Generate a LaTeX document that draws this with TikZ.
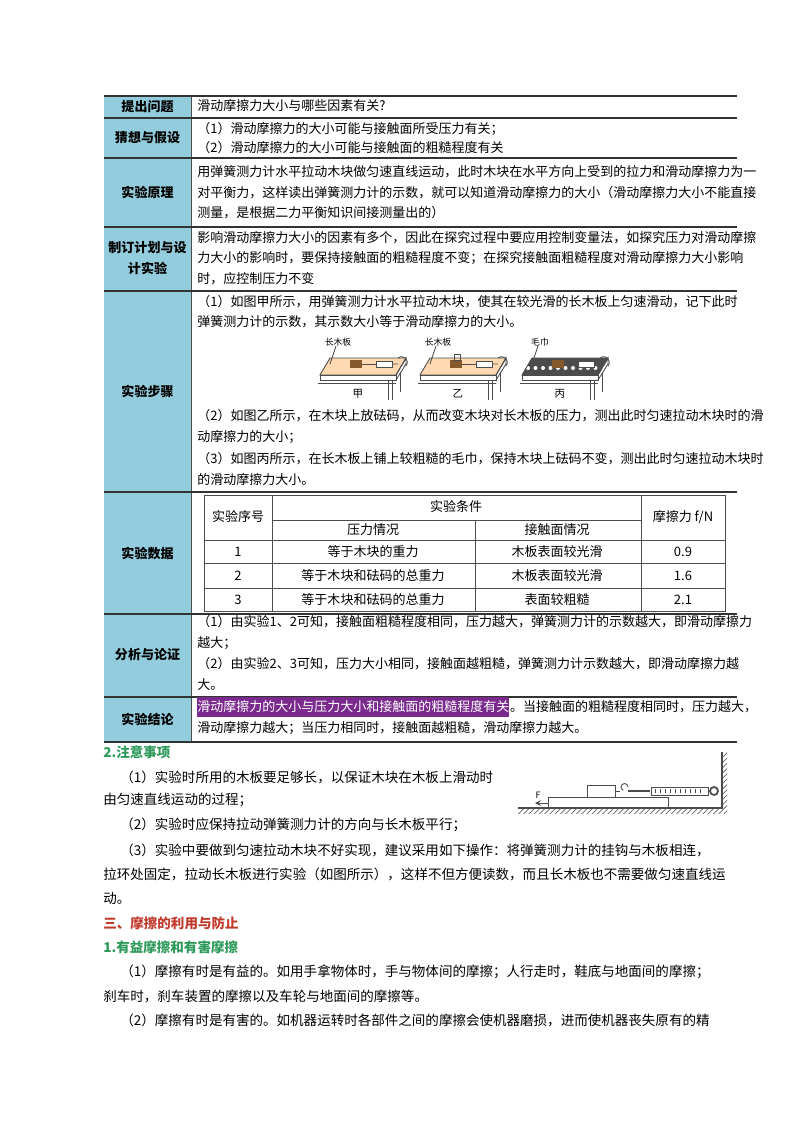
\documentclass[tikz,border=0pt]{standalone}
\usepackage{fontspec}
\setmainfont{Noto Sans CJK SC}
\usetikzlibrary{patterns}
\definecolor{lab}{HTML}{93CDDD}
\definecolor{grn}{HTML}{2E9A5A}
\definecolor{red3}{HTML}{C0392B}
\definecolor{hl}{HTML}{7A2A8C}
\newcommand{\tx}{\fontsize{7.4pt}{9pt}\selectfont}
\newcommand{\bx}{\fontsize{7.7pt}{9pt}\selectfont}
\tikzset{
 t/.style={anchor=west,inner sep=0pt,font=\tx},
 b/.style={anchor=west,inner sep=0pt,font=\bx},
 c/.style={anchor=center,inner sep=0pt,font=\tx},
 lb/.style={anchor=center,inner sep=0pt,font=\tx\bfseries,align=center},
 rl/.style={line width=1.1pt,black!80},
 gl/.style={line width=0.5pt,black!70},
}
\begin{document}
\begin{tikzpicture}[x=0.02cm,y=-0.02cm]
\useasboundingbox (0,0) rectangle (800,1132);
% label column
\fill[lab] (104,96) rectangle (191,742);
\draw[gl] (191,96) -- (191,742);
\foreach \y in {96,118,158,227,291,492,614,697,742} \draw[rl] (104,\y) -- (737,\y);
\node[lb] (l1) at (147.5,107) {提出问题};
\node[lb] (l2) at (147.5,138) {猜想与假设};
\node[lb] (l3) at (147.5,192) {实验原理};
\node[lb] (l4) at (147.5,258) {制订计划与设\\[3pt]计实验};
\node[lb] (l5) at (147.5,391) {实验步骤};
\node[lb] (l6) at (147.5,553) {实验数据};
\node[lb] (l7) at (147.5,655) {分析与论证};
\node[lb] (l8) at (147.5,719) {实验结论};
% row texts
\node[t] at (197,106) {滑动摩擦力大小与哪些因素有关?};
\node[t] at (197,129) {（1）滑动摩擦力的大小可能与接触面所受压力有关；};
\node[t] at (197,148) {（2）滑动摩擦力的大小可能与接触面的粗糙程度有关};
\node[t] at (197,172) {用弹簧测力计水平拉动木块做匀速直线运动，此时木块在水平方向上受到的拉力和滑动摩擦力为一};
\node[t] at (197,193) {对平衡力，这样读出弹簧测力计的示数，就可以知道滑动摩擦力的大小（滑动摩擦力大小不能直接};
\node[t] at (197,213) {测量，是根据二力平衡知识间接测量出的）};
\node[t] at (197,238) {影响滑动摩擦力大小的因素有多个，因此在探究过程中要应用控制变量法，如探究压力对滑动摩擦};
\node[t] at (197,258) {力大小的影响时，要保持接触面的粗糙程度不变；在探究接触面粗糙程度对滑动摩擦力大小影响};
\node[t] at (197,279) {时，应控制压力不变};
\node[t] at (197,302) {（1）如图甲所示，用弹簧测力计水平拉动木块，使其在较光滑的长木板上匀速滑动，记下此时};
\node[t] at (197,322) {弹簧测力计的示数，其示数大小等于滑动摩擦力的大小。};
\node[t] at (197,416) {（2）如图乙所示，在木块上放砝码，从而改变木块对长木板的压力，测出此时匀速拉动木块时的滑};
\node[t] at (197,437) {动摩擦力的大小；};
\node[t] at (197,459) {（3）如图丙所示，在长木板上铺上较粗糙的毛巾，保持木块上砝码不变，测出此时匀速拉动木块时};
\node[t] at (197,480) {的滑动摩擦力大小。};
% three pictures
\foreach \ox/\lab/\cap/\towel in {318/长木板/甲/0,418/长木板/乙/0,520/毛巾/丙/1}{
 \begin{scope}[shift={(\ox,0)}]
  \fill[orange!30] (2,375) -- (12,358) -- (88,358) -- (78,375) -- cycle;
  \ifnum\towel=1 \fill[black!70] (2,375) -- (12,358) -- (88,358) -- (78,375) -- cycle;
   \foreach \i in {0,...,9} \fill[white] (8+\i*7.5,368) circle (2);\fi
  \draw[gl] (2,375) -- (12,358) -- (88,358) -- (78,375) -- cycle;
  \draw[gl] (2,375) rectangle (78,380); \draw[gl] (78,375) -- (88,358) -- (88,364) -- (78,380);
  \draw[gl] (0,383) -- (78,383); \draw[gl] (70,380) -- (70,400) (74,380) -- (74,400) (82,372) -- (82,392);
  \fill[brown!70!black] (32,360) rectangle (44,368);
  \ifnum\ox=418 \draw[gl] (36,360) rectangle (42,354);\fi
  \draw[gl] (44,364) -- (58,364); \draw[gl,fill=white] (58,361) rectangle (74,367);
  \draw[gl] (74,364) -- (80,364) (80,358) .. controls (86,354) and (92,360) .. (88,366);
  \node[font=\fontsize{5pt}{6pt}\selectfont,inner sep=0pt] at (20,342) {\lab};
  \draw[gl] (18,346) -- (12,364);
  \node[font=\fontsize{6pt}{7pt}\selectfont,inner sep=0pt] at (40,394) {\cap};
 \end{scope}}
% data table
\draw[gl] (204,495) rectangle (725,611);
\foreach \y in {540,563,588} \draw[gl] (204,\y) -- (725,\y);
\draw[gl] (272,520) -- (641,520);
\foreach \x in {272,641} \draw[gl] (\x,495) -- (\x,611);
\draw[gl] (475,520) -- (475,611);
\node[c] at (238,517) {实验序号};
\node[c] at (456,507) {实验条件};
\node[c] at (373,530) {压力情况};
\node[c] at (557,530) {接触面情况};
\node[c] at (683,517) {摩擦力 f/N};
\node[c] at (238,552) {1}; \node[c] at (373,552) {等于木块的重力}; \node[c] at (557,552) {木板表面较光滑}; \node[c] at (683,552) {0.9};
\node[c] at (238,576) {2}; \node[c] at (373,576) {等于木块和砝码的总重力}; \node[c] at (557,576) {木板表面较光滑}; \node[c] at (683,576) {1.6};
\node[c] at (238,600) {3}; \node[c] at (373,600) {等于木块和砝码的总重力}; \node[c] at (557,600) {表面较粗糙}; \node[c] at (683,600) {2.1};
% analysis
\node[t] at (197,622) {（1）由实验1、2可知，接触面粗糙程度相同，压力越大，弹簧测力计的示数越大，即滑动摩擦力};
\node[t] at (197,643) {越大；};
\node[t] at (197,664) {（2）由实验2、3可知，压力大小相同，接触面越粗糙，弹簧测力计示数越大，即滑动摩擦力越};
\node[t] at (197,685) {大。};
% conclusion
\node[t,fill=hl,inner ysep=2pt,text=white] (hlt) at (197,707) {滑动摩擦力的大小与压力大小和接触面的粗糙程度有关};
\node[t,anchor=base west] at (hlt.base east) {。当接触面的粗糙程度相同时，压力越大，};
\node[t] at (197,728) {滑动摩擦力越大；当压力相同时，接触面越粗糙，滑动摩擦力越大。};
% notes
\node[b,text=grn,font=\bx\bfseries] at (103,752) {2.注意事项};
\node[b] at (120,777) {（1）实验时所用的木板要足够长，以保证木块在木板上滑动时};
\node[b] at (103,800) {由匀速直线运动的过程；};
\node[b] at (120,825) {（2）实验时应保持拉动弹簧测力计的方向与长木板平行；};
\node[b] at (120,850) {（3）实验中要做到匀速拉动木块不好实现，建议采用如下操作：将弹簧测力计的挂钩与木板相连，};
\node[b] at (103,874) {拉环处固定，拉动长木板进行实验（如图所示），这样不但方便读数，而且长木板也不需要做匀速直线运};
\node[b] at (103,898) {动。};
\node[b,text=red3,font=\bx\bfseries] at (103,923) {三、摩擦的利用与防止};
\node[b,text=grn,font=\bx\bfseries] at (103,947) {1.有益摩擦和有害摩擦};
\node[b] at (120,972) {（1）摩擦有时是有益的。如用手拿物体时，手与物体间的摩擦；人行走时，鞋底与地面间的摩擦；};
\node[b] at (103,996) {刹车时，刹车装置的摩擦以及车轮与地面间的摩擦等。};
\node[b] at (120,1020) {（2）摩擦有时是有害的。如机器运转时各部件之间的摩擦会使机器磨损，进而使机器丧失原有的精};
% right figure
\fill[pattern=north east lines,pattern color=black!60] (518,808) rectangle (722,813);
\fill[pattern=north east lines,pattern color=black!60] (722,752) rectangle (727,813);
\draw[gl,line width=0.7pt] (518,808) -- (722,808) -- (722,752);
\draw[gl] (548,797) rectangle (668,808);
\draw[gl] (587,785) rectangle (615,797);
\draw[gl] (615,791) -- (620,791);
\draw[gl] (628,787) arc (0:-250:3.5);
\draw[gl,line width=1pt] (628,791) -- (650,791);
\draw[gl,fill=white] (651,787) rectangle (708,795);
\foreach \i in {0,...,9} \draw[gl,line width=0.3pt] (655+\i*5,789) -- (655+\i*5,793);
\draw[gl] (708,791) -- (710,791);
\draw[gl,line width=1pt] (714,791) circle (4);
\draw[gl,-stealth] (548,803) -- (535,803);
\node[font=\fontsize{5pt}{6pt}\selectfont,inner sep=0pt] (F) at (538,795) {F};
\end{tikzpicture}
\end{document}
